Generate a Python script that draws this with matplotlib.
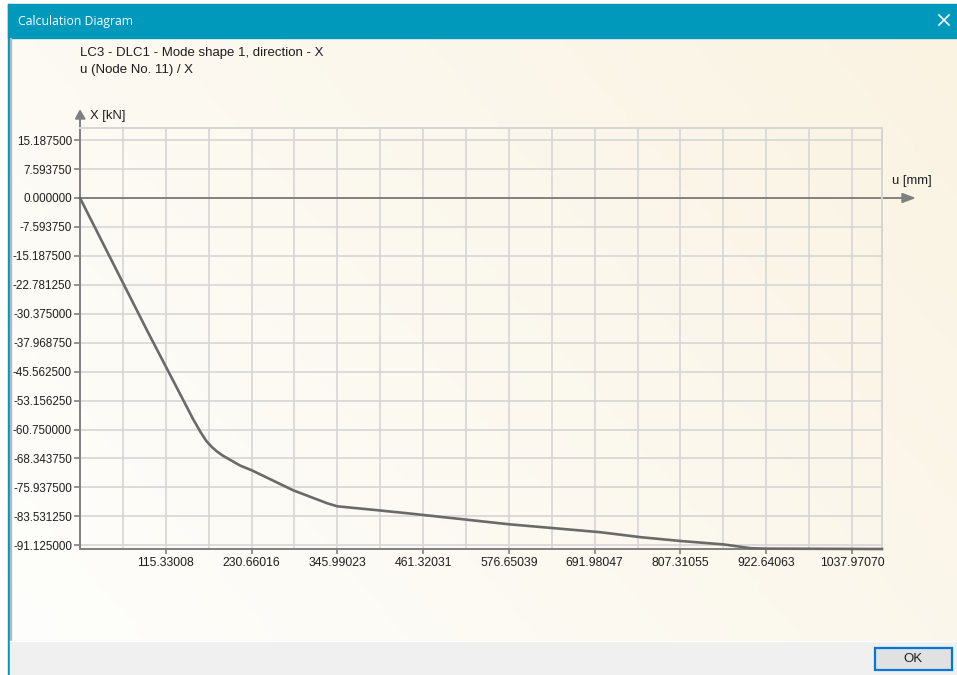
import numpy as np
import matplotlib
matplotlib.use("Agg")
import matplotlib.pyplot as plt
from matplotlib.patches import Rectangle, Polygon

# curve: u [mm] vs X [kN]
u_mm = [0, 90, 139, 152, 162, 170, 177.6, 184, 192, 215.3, 231.5, 286.6, 332.4,
        345.9, 403.7, 444, 576, 699.8, 753.7, 807.5, 865.4, 901.8, 924.5, 1078.3]
x_kn = [0, -34.7, -53.1, -58.0, -61.4, -63.8, -65.4, -66.5, -67.6, -70.2, -71.5,
        -76.7, -80.1, -80.9, -82.0, -82.8, -85.6, -87.7, -89.0, -90.0, -90.9,
        -91.9, -92.0, -92.1]

x_ticks = [115.33008, 230.66016, 345.99023, 461.32031, 576.65039,
           691.98047, 807.31055, 922.64063, 1037.97070]
x_labels = ["115.33008", "230.66016", "345.99023", "461.32031", "576.65039",
            "691.98047", "807.31055", "922.64063", "1037.97070"]
y_ticks = [15.1875, 7.59375, 0.0, -7.59375, -15.1875, -22.78125, -30.375,
           -37.96875, -45.5625, -53.15625, -60.75, -68.34375, -75.9375,
           -83.53125, -91.125]

title = "Calculation Diagram"
head1 = "LC3 - DLC1 - Mode shape 1, direction - X"
head2 = "u (Node No. 11) / X"

W, H = 957, 675
fig = plt.figure(figsize=(W / 100, H / 100), dpi=100)
fig.patch.set_facecolor("white")

# window chrome drawn in pixel coordinates
bg = fig.add_axes([0, 0, 1, 1], zorder=0)
bg.set_xlim(0, W)
bg.set_ylim(H, 0)
bg.axis("off")

teal = "#0099BC"
gx = np.linspace(0, 1, 200)
gy = np.linspace(0, 1, 120)
GX, GY = np.meshgrid(gx, gy)
t = np.clip(0.65 * GX + 0.35 * (1 - GY), 0, 1)[..., None]
c0 = np.array([254, 254, 252]) / 255
c1 = np.array([250, 243, 226]) / 255
img = c0 * (1 - t) + c1 * t
bg.imshow(img, extent=(10, W, 641, 38), aspect="auto", zorder=0)

bg.add_patch(Rectangle((8, 4), W - 8, 34, color=teal, zorder=1))
bg.add_patch(Rectangle((8, 4), 2, H - 4, color=teal, zorder=1))
bg.add_patch(Rectangle((10, 38), 1, 603, color="#B8B8B8", zorder=1))
bg.add_patch(Rectangle((10, 641), W - 10, 34, color="#F0F0F0", zorder=1))
bg.plot([10, W], [641, 641], color="white", lw=1, zorder=2)
bg.add_patch(Rectangle((875, 648), 77, 22, fc="#E1E1E1", ec="#0078D7", lw=1.6, zorder=2))
bg.text(913, 659.5, "OK", ha="center", va="center", fontsize=9.5,
        family="Liberation Sans", color="#1E1E1E", zorder=3)
bg.plot([939, 949], [15, 25], color="white", lw=1.2, zorder=3)
bg.plot([939, 949], [25, 15], color="white", lw=1.2, zorder=3)
bg.text(18, 21, title, ha="left", va="center", fontsize=8.8, family="Open Sans",
        color="white", zorder=3)

bg.text(80, 53, head1, ha="left", va="center", fontsize=9.5,
        family="Liberation Sans", color="#1E1E1E", zorder=3)
bg.text(80, 70, head2, ha="left", va="center", fontsize=9.5,
        family="Liberation Sans", color="#1E1E1E", zorder=3)
bg.text(90, 116, "X [kN]", ha="left", va="center", fontsize=9.4,
        family="Liberation Sans", color="#1E1E1E", zorder=3)
bg.text(892, 181, "u [mm]", ha="left", va="center", fontsize=9.4,
        family="Liberation Sans", color="#1E1E1E", zorder=3)

# axis arrows
axis_col = "#808080"
bg.plot([80, 80], [119, 128], color=axis_col, lw=1.4, zorder=3)
bg.add_patch(Polygon([(75.5, 119), (85, 119), (80, 110.5)], color=axis_col, zorder=3))
bg.plot([882, 902], [198, 198], color=axis_col, lw=1.4, zorder=3)
bg.add_patch(Polygon([(902, 193.5), (902, 202.5), (914, 198)], color=axis_col, zorder=3))

# the diagram itself
ax = fig.add_axes([80 / W, 1 - 549 / H, 802 / W, 421 / H], zorder=1)
ax.patch.set_alpha(0)
ax.set_xlim(0, 1078.3)
ax.set_ylim(-92.1, 18.36)

grid_col = "#D6D6D6"
for gxv in np.arange(1, 19) * 57.66504:
    ax.axvline(gxv, color=grid_col, lw=1.2, zorder=1)
for gyv in y_ticks:
    if gyv != 0:
        ax.axhline(gyv, color=grid_col, lw=1.2, zorder=1)
ax.axhline(0, color=axis_col, lw=1.4, zorder=2)

ax.plot(u_mm, x_kn, color="#6A6A6A", lw=1.9, zorder=3, clip_on=False,
        solid_joinstyle="round")

ax.set_xticks(x_ticks)
ax.set_xticklabels(x_labels)
ax.set_yticks(y_ticks)
ax.set_yticklabels(["%.6f" % v for v in y_ticks])
ax.tick_params(axis="both", colors=axis_col, labelcolor="#1E1E1E", width=1.2)
ax.tick_params(axis="y", length=4.3, pad=1.5, labelsize=8.4)
ax.tick_params(axis="x", length=3.6, pad=2, labelsize=8.8)
for lab in ax.get_xticklabels() + ax.get_yticklabels():
    lab.set_family("Liberation Sans")

for side in ["left", "bottom"]:
    ax.spines[side].set_color(axis_col)
    ax.spines[side].set_linewidth(1.4)
for side in ["top", "right"]:
    ax.spines[side].set_color(grid_col)
    ax.spines[side].set_linewidth(1.4)

fig.savefig("out.png", dpi=100)
